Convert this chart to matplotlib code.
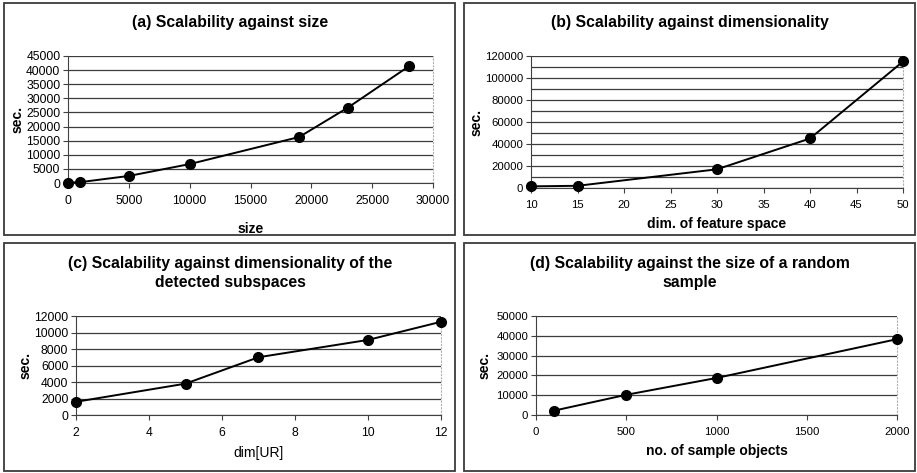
import matplotlib
matplotlib.use('Agg')
import matplotlib.pyplot as plt
from matplotlib.patches import Rectangle
from matplotlib.ticker import MultipleLocator

plt.rcParams['font.family'] = ['Liberation Sans', 'DejaVu Sans']

W, H = 917, 473

# data
size_x = [0, 1000, 5000, 10000, 19000, 23000, 28000]
size_y = [100, 300, 2500, 6700, 16300, 26700, 41300]

dim_x = [10, 15, 30, 40, 50]
dim_y = [1500, 2000, 17000, 45000, 115000]

ur_x = [2, 5, 7, 10, 12]
ur_y = [1600, 3800, 7000, 9100, 11300]

sample_x = [100, 500, 1000, 2000]
sample_y = [2200, 10200, 18700, 38300]

titles = ['(a) Scalability against size',
          '(b) Scalability against dimensionality',
          '(c) Scalability against dimensionality of the\ndetected subspaces',
          '(d) Scalability against the size of a random\nsample']
xlabels = ['size', 'dim. of feature space', 'dim[UR]', 'no. of sample objects']


def px_box(x0, y0, x1, y1):
    '''pixel box (top-left origin) -> figure fraction rect'''
    return [x0 / W, 1 - y1 / H, (x1 - x0) / W, (y1 - y0) / H]


def frame(fig, x0, y0, x1, y1):
    l, b, w, h = px_box(x0, y0, x1, y1)
    fig.add_artist(Rectangle((l, b), w, h, transform=fig.transFigure,
                             fill=False, edgecolor='#3a3a3a', linewidth=1.3))


def style_axis(ax, xlim, ylim, xstep, ystep, ylabel_step=None, xlab='', xlab_bold=True, tick_size=8.7):
    ax.set_xlim(*xlim)
    ax.set_ylim(*ylim)
    ax.xaxis.set_major_locator(MultipleLocator(xstep))
    ax.yaxis.set_major_locator(MultipleLocator(ylabel_step or ystep))
    if ylabel_step:
        ax.yaxis.set_minor_locator(MultipleLocator(ystep))
        ax.grid(True, axis='y', which='minor', color='#3c3c3c', linewidth=0.9)
    ax.grid(True, axis='y', which='major', color='#3c3c3c', linewidth=0.9)
    ax.set_axisbelow(True)
    ax.spines['top'].set_visible(False)
    ax.spines['right'].set_color('#b0b0b0')
    ax.spines['right'].set_linestyle((0, (1, 2)))
    ax.spines['right'].set_linewidth(0.8)
    ax.spines['left'].set_color('#404040')
    ax.spines['bottom'].set_color('#404040')
    ax.tick_params(axis='both', which='major', direction='out', length=3.5,
                   width=0.8, color='#404040', labelsize=tick_size, pad=2)
    ax.tick_params(axis='y', which='minor', length=0)
    ax.tick_params(axis='x', pad=5)
    ax.set_ylabel('sec.', fontsize=10, fontweight='bold')
    ax.set_xlabel(xlab, fontsize=10, fontweight='bold' if xlab_bold else 'normal', labelpad=5)


def place_ylabel(ax, box, px):
    # put the "sec." label centred on a given pixel column (label anchor is its baseline side)
    ax.yaxis.set_label_coords((px + 5 - box[0]) / (box[2] - box[0]), 0.5)


def draw(ax, x, y):
    ax.plot(x, y, color='black', linewidth=1.4, marker='o', markersize=7, clip_on=False, zorder=3)


fig = plt.figure(figsize=(W / 100, H / 100), dpi=100)

frame(fig, 4, 3, 455, 235)
frame(fig, 464, 3, 915, 235)
frame(fig, 4, 243, 455, 471)
frame(fig, 464, 243, 915, 471)

box_a = (68, 56, 433, 183)
ax_a = fig.add_axes(px_box(*box_a))
draw(ax_a, size_x, size_y)
style_axis(ax_a, (0, 30000), (0, 45000), 5000, 5000, xlab=xlabels[0])
ax_a.xaxis.labelpad = 11
place_ylabel(ax_a, box_a, 20)

box_b = (531, 56, 903, 188)
ax_b = fig.add_axes(px_box(*box_b))
draw(ax_b, dim_x, dim_y)
style_axis(ax_b, (10, 50), (0, 120000), 5, 10000, ylabel_step=20000, xlab=xlabels[1], tick_size=8.2)
place_ylabel(ax_b, box_b, 479)

box_c = (76, 316, 441, 415)
ax_c = fig.add_axes(px_box(*box_c))
draw(ax_c, ur_x, ur_y)
style_axis(ax_c, (2, 12), (0, 12000), 2, 2000, xlab=xlabels[2], xlab_bold=False)
place_ylabel(ax_c, box_c, 28)

box_d = (536, 316, 897, 415)
ax_d = fig.add_axes(px_box(*box_d))
draw(ax_d, sample_x, sample_y)
style_axis(ax_d, (0, 2000), (0, 50000), 500, 10000, xlab=xlabels[3], tick_size=8.2)
place_ylabel(ax_d, box_d, 487)

# panel titles
title_pos = [(230, 22), (690, 22), (230, 273), (690, 273)]
for t, (tx, ty) in zip(titles, title_pos):
    fig.text(tx / W, 1 - ty / H, t, ha='center', va='center', fontsize=11.3,
             fontweight='bold', linespacing=1.4)

plt.savefig('out.png', dpi=100)
